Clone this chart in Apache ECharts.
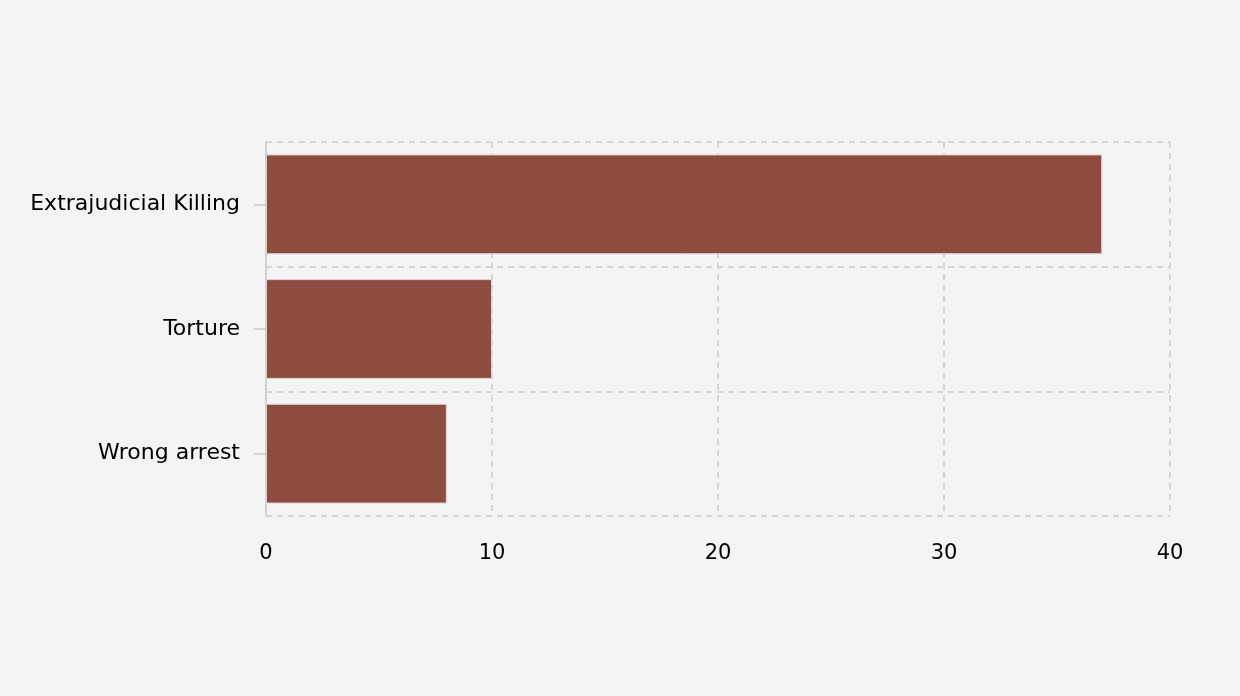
<!DOCTYPE html>
<html>
<head>
<meta charset="utf-8">
<script src="https://cdn.jsdelivr.net/npm/echarts@6/dist/echarts.min.js"></script>
<style>
  html, body { margin: 0; padding: 0; background: #f4f4f4; }
  #main { width: 1240px; height: 696px; }
</style>
</head>
<body>
<div id="main"></div>
<script>
var dom = document.getElementById('main')
var chart = echarts.init(dom)

// categories from bottom to top
var categories = ['Wrong arrest', 'Torture', 'Extrajudicial Killing']
var counts = [8, 10, 37]
var xTicks = [0, 10, 20, 30, 40]

var font = 'Verdana, "DejaVu Sans", sans-serif'

var options = {
    backgroundColor: '#f4f4f4',
    animation: false,
    grid: {
        left: 266,
        right: 70,
        top: 142,
        bottom: 180
    },
    xAxis: {
        type: 'value',
        min: xTicks[0],
        max: xTicks[xTicks.length - 1],
        interval: 10,
        axisLine: { show: false },
        axisTick: { show: false },
        axisLabel: {
            color: '#000',
            fontSize: 21,
            fontFamily: font,
            margin: 27
        },
        splitLine: {
            show: true,
            lineStyle: { color: '#cccccc', type: [6, 5], width: 1.5 }
        }
    },
    yAxis: {
        type: 'category',
        data: categories,
        axisLine: { show: true, lineStyle: { color: '#cccccc', width: 1.5 } },
        axisTick: { show: true, alignWithLabel: true, length: 12, lineStyle: { color: '#c8c8c8', width: 1.5 } },
        axisLabel: {
            color: '#000',
            fontSize: 22,
            fontFamily: font,
            margin: 26,
            padding: [3, 0, 0, 0]
        },
        splitLine: {
            show: true,
            lineStyle: { color: '#cccccc', type: [6, 5], width: 1.5 }
        }
    },
    series: [{
        type: 'bar',
        data: counts,
        barCategoryGap: '20%',
        itemStyle: {
            color: '#8e4b40',
            borderColor: '#e0d0cc',
            borderWidth: 1
        }
    }]
}

chart.setOption(options)
</script>
</body>
</html>
